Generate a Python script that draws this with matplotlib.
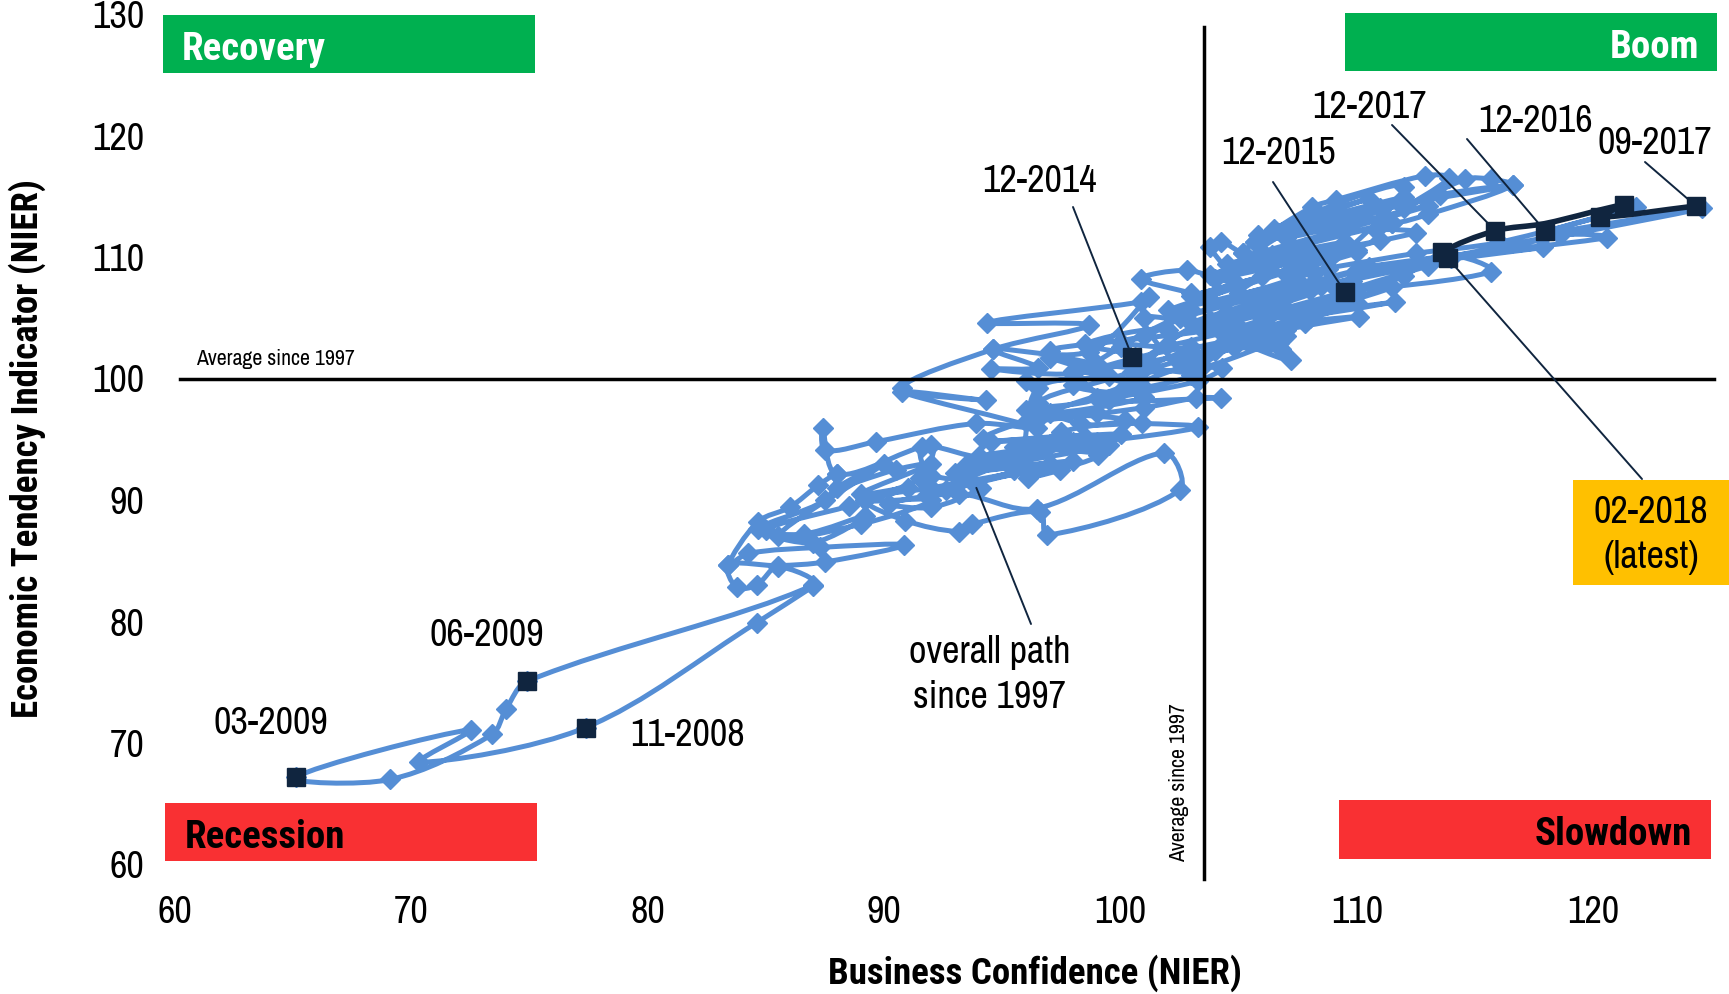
import numpy as np
import matplotlib
matplotlib.use('Agg')
import matplotlib.pyplot as plt
from matplotlib.path import Path
from matplotlib.patches import PathPatch, Rectangle

# monthly path since 1997, x = business confidence, y = tendency indicator
path_conf = [
    87.0, 84.6, 77.36, 70.3, 72.5, 65.09, 69.1, 73.4, 74.0, 74.89,
    87.0, 85.5, 84.6, 83.75, 83.4, 85.5, 87.5, 90.85, 87.3, 84.25,
    83.4, 84.65, 86.0, 87.2, 88.0, 87.5, 84.65, 86.6, 89.2, 87.0,
    85.0, 88.5, 91.0, 89.0, 92.0, 90.5, 88.0, 90.0, 85.5, 89.0, 92.0,
    89.2, 91.5, 92.0, 88.0, 87.4, 87.5, 89.65, 93.9, 96.45, 90.75,
    94.3, 90.75, 94.6, 98.65, 94.37, 100.87, 101.2, 98.65, 94.6, 96.5,
    94.5, 98.0, 100.6, 98.5, 102.0, 100.9, 96.5, 98.3, 100.9, 103.3,
    99.0, 95.5, 99.05, 96.1, 97.45, 93.7, 94.1, 92.0, 90.2, 93.15,
    96.45, 101.85, 102.5, 96.9, 96.6, 93.7, 93.15, 90.9, 89.2, 92.0,
    98.0, 93.0, 99.5, 94.0, 100.0, 94.5, 98.5, 93.5, 97.0, 92.6,
    96.0, 91.8, 95.5, 97.5, 100.2, 96.0, 99.0, 98.0, 101.0, 97.0,
    99.5, 96.5,
    95.5, 92.0, 91.6, 94.5, 97.0, 93.5, 96.0, 98.0, 94.2, 96.6,
    99.0, 96.0, 101.0, 103.2, 104.25, 99.5,
    103.3, 104.3, 100.9, 104.4, 107.2, 106.7, 103.6, 107.0, 110.1, 105.0,
    102.0, 104.5, 108.0, 111.6, 106.0, 103.0, 100.87, 102.8, 104.8, 103.8,
    104.25, 105.2, 108.0, 106.0, 103.8, 108.0, 109.8, 106.3, 113.8,
    115.7, 110.0, 113.0, 108.5, 118.6, 120.6, 113.5, 110.5, 117.9, 114.0,
    124.6, 118.0, 121.8, 116.0, 112.5, 107.0, 110.0, 106.0, 112.5, 110.8,
    111.0, 107.0, 105.2, 105.7, 108.1, 109.1, 112.9, 113.9, 112.0, 114.6,
    115.7, 116.6, 113.0, 111.5, 109.1, 105.7, 108.5, 113.5, 116.6, 111.0, 107.3,
    104.6, 106.4, 103.8, 107.8, 105.0, 108.8, 104.5, 107.0, 105.7, 103.8,
    100.5, 108.0, 103.0, 110.0, 104.5, 111.5, 105.0, 112.0, 104.0, 109.0,
    103.0, 110.0, 102.5, 107.5, 102.0, 108.0, 103.0, 110.0, 104.0, 109.5,
    104.5, 111.5, 106.0, 113.0, 107.0, 112.0, 106.5, 110.5, 105.8, 112.0,
    106.8, 103.5, 107.0, 104.0, 107.8, 104.4, 106.8, 103.0, 99.0, 103.0,
    100.0, 103.5, 101.0, 102.4, 104.8, 100.0, 103.0, 99.0, 97.0, 101.0,
    103.0, 100.0, 98.0, 101.0, 97.0, 100.5, 96.0,
]
path_tend = [
    82.9, 79.9, 71.27, 68.4, 71.1, 67.18, 67.0, 70.7, 72.8, 75.09,
    83.0, 84.5, 83.0, 82.8, 84.65, 84.6, 84.9, 86.3, 86.1, 85.6,
    84.65, 88.2, 89.4, 91.2, 92.1, 90.0, 87.6, 87.2, 88.7, 86.5,
    87.5, 89.5, 91.0, 90.5, 93.0, 92.5, 91.0, 93.0, 87.0, 88.0, 90.0,
    90.0, 91.8, 94.5, 92.1, 95.9, 94.1, 94.8, 96.3, 95.9, 98.9,
    98.2, 99.2, 102.4, 104.4, 104.6, 106.3, 106.7, 102.2, 102.4, 100.9,
    100.8, 100.4, 101.8, 102.8, 104.0, 101.0, 98.0, 96.3, 96.3, 96.0,
    94.8, 94.4, 93.7, 91.8, 92.5, 91.5, 91.0, 89.4, 89.7, 90.5,
    89.3, 93.9, 90.8, 87.1, 89.0, 88.0, 87.4, 88.3, 90.0, 91.0,
    93.2, 92.2, 94.5, 93.6, 95.4, 94.8, 95.2, 92.4, 93.0, 90.8,
    92.6, 90.4, 93.4, 95.6, 96.6, 97.4, 98.4, 100.6, 99.2, 101.7,
    100.2, 99.2,
    92.5, 92.0, 94.4, 93.4, 94.5, 93.0, 93.5, 94.8, 95.0, 96.8,
    97.2, 96.4, 97.6, 98.4, 98.4, 98.2,
    99.8, 100.9, 100.6, 103.0, 101.5, 102.9, 102.0, 104.0, 105.1, 104.0,
    102.8, 105.5, 105.5, 106.3, 105.0, 107.0, 108.2, 108.9, 108.0, 110.85,
    111.26, 110.3, 109.0, 108.4, 106.5, 107.3, 108.0, 106.2, 110.1,
    108.8, 107.4, 109.3, 107.6, 111.8, 111.6, 110.0, 109.2, 110.8, 109.9,
    114.0, 112.0, 114.1, 111.2, 110.3, 108.6, 110.4, 109.5, 112.0, 112.2,
    111.4, 109.8, 110.3, 111.2, 114.1, 114.7, 116.7, 116.5, 114.0, 116.4,
    116.4, 115.9, 113.5, 112.8, 113.2, 111.2, 112.4, 115.1, 115.9, 114.0, 112.3,
    108.6, 110.2, 108.5, 110.8, 107.0, 109.0, 104.8, 106.8, 103.5, 104.8,
    100.5, 105.0, 101.8, 106.2, 103.2, 107.5, 104.2, 108.4, 104.3, 107.6,
    104.6, 108.9, 105.0, 108.0, 105.6, 109.4, 106.8, 110.6, 108.2, 111.2,
    109.4, 112.8, 110.4, 114.2, 111.6, 114.9, 112.3, 114.8, 111.8, 115.8,
    105.7, 101.0, 103.5, 102.3, 104.6, 103.6, 102.4, 102.6, 100.8, 102.2,
    103.0, 104.0, 105.0, 101.5, 102.6, 99.0, 100.3, 101.2, 102.3, 103.5,
    105.6, 102.6, 99.5, 98.5, 97.2, 99.8, 99.8,
]

# latest stretch of the path
recent_conf = [113.85, 113.6, 115.86, 117.96, 121.3, 120.3, 124.35]
recent_tend = [109.9, 110.4, 112.16, 112.75, 114.3, 113.3, 114.2]

# dated points picked out with a square marker
dated_conf = [77.36, 65.09, 74.89, 100.5, 109.5, 117.96, 124.35, 115.86, 113.85, 113.6, 120.3, 121.3]
dated_tend = [71.27, 67.18, 75.09, 101.75, 107.1, 112.16, 114.2, 112.16, 109.9, 110.4, 113.3, 114.3]

avg_conf = 103.54
avg_tend = 100

x_ticks = [60, 70, 80, 90, 100, 110, 120]
y_ticks = [60, 70, 80, 90, 100, 110, 120, 130]

BLUE = '#558ed5'
NAVY = '#10253f'
GREEN = '#00b050'
RED = '#f93033'
AMBER = '#ffc000'
NARROW = ['Archivo Narrow', 'Liberation Sans']
BOLD = ['Roboto Condensed', 'Liberation Sans']
SIZE = 27.5
BOLD_SIZE = 26.6


def smooth_path(x, y):
    # cubic segments through every point, like a smoothed spreadsheet line
    pts = np.column_stack([x, y])
    seg = np.hypot(np.diff(pts[:, 0]), np.diff(pts[:, 1]) * 0.5) + 1e-6
    tang = np.zeros_like(pts)
    tang[1:-1] = (pts[2:] - pts[:-2]) / (seg[1:] + seg[:-1])[:, None]
    tang[0] = (pts[1] - pts[0]) / seg[0]
    tang[-1] = (pts[-1] - pts[-2]) / seg[-1]
    verts = [pts[0]]
    codes = [Path.MOVETO]
    for i in range(len(pts) - 1):
        step = seg[i] / 3
        verts += [pts[i] + tang[i] * step, pts[i + 1] - tang[i + 1] * step, pts[i + 1]]
        codes += [Path.CURVE4] * 3
    return Path(verts, codes)


fig = plt.figure(figsize=(17.29, 9.94), dpi=100)
W, H = 1729, 994
x0, x_unit = 175.3, 23.63
y0, y_unit = 864.5, 12.15
ax = fig.add_axes([x0 / W, (H - y0) / H, (W - x0) / W, y_unit * 70 / H])
ax.set_xlim(60, 60 + (W - x0) / x_unit)
ax.set_ylim(60, 130)
for side in ax.spines.values():
    side.set_visible(False)
ax.patch.set_visible(False)

ax.set_xticks(x_ticks)
ax.set_yticks(y_ticks)
ax.tick_params(length=0, labelsize=SIZE, pad=22)
for lab in ax.get_xticklabels() + ax.get_yticklabels():
    lab.set_family(NARROW)

# overall path
ax.add_patch(PathPatch(smooth_path(path_conf, path_tend), fill=False, edgecolor=BLUE,
                       lw=3.6, zorder=3, clip_on=False))
ax.plot(path_conf, path_tend, ls='none', marker='D', ms=10, mfc=BLUE, mec=BLUE, zorder=3)

# average lines
ax.plot([60.2, 125.1], [avg_tend, avg_tend], color='black', lw=2.5, zorder=4, clip_on=False)
ax.plot([avg_conf, avg_conf], [58.8, 128.9], color='black', lw=2.5, zorder=4, clip_on=False)

# latest stretch
ax.add_patch(PathPatch(smooth_path(recent_conf, recent_tend), fill=False, edgecolor=NAVY,
                       lw=4, zorder=5))
ax.plot(dated_conf, dated_tend, ls='none', marker='s', ms=12.5, mfc=NAVY, mec=NAVY, zorder=7)

# overlay in pixel units for boxes and captions
over = fig.add_axes([0, 0, 1, 1])
over.set_xlim(0, W)
over.set_ylim(H, 0)
over.axis('off')

boxes = [
    (163, 15, 372, 58, GREEN, 'Recovery', 'white', 182, 'left'),
    (1345, 13, 372, 58, GREEN, 'Boom', 'white', 1699, 'right'),
    (165, 803, 372, 58, RED, 'Recession', 'black', 185, 'left'),
    (1339, 800, 372, 59, RED, 'Slowdown', 'black', 1692, 'right'),
]
for bx, by, bw, bh, col, name, txt_col, tx, ha in boxes:
    over.add_patch(Rectangle((bx, by), bw, bh, facecolor=col, edgecolor='none'))
    over.text(tx, by + bh / 2 + 5, name, color=txt_col, ha=ha, va='center', fontsize=28,
              fontweight='bold', family=BOLD)
over.add_patch(Rectangle((1573, 480), 156, 105, facecolor=AMBER, edgecolor='none'))

captions = [
    ('12-2014', 1040, 181), ('12-2015', 1279, 154), ('12-2017', 1370, 108),
    ('12-2016', 1536, 121), ('09-2017', 1655, 143), ('06-2009', 487, 635),
    ('03-2009', 271, 723), ('11-2008', 688, 735),
    ('overall path\nsince 1997', 990, 675), ('02-2018\n(latest)', 1651, 535),
]
for s, tx, ty in captions:
    over.text(tx, ty, s, ha='center', va='center', fontsize=SIZE, family=NARROW, linespacing=1.35)

over.text(196, 359, 'Average since 1997', ha='left', va='center', fontsize=15.7, family=NARROW)
over.text(1179, 783, 'Average since 1997', ha='center', va='center', rotation=90, fontsize=15.7,
          family=NARROW)
over.text(1035, 973, 'Business Confidence (NIER)', ha='center', va='center', fontsize=BOLD_SIZE,
          fontweight='bold', family=BOLD)
over.text(27, 449, 'Economic Tendency Indicator (NIER)', ha='center', va='center', rotation=90,
          fontsize=BOLD_SIZE, fontweight='bold', family=BOLD)

# leader lines from each caption to its dated point
leaders = [
    (1073, 207, 3), (1273, 182, 4), (1392, 125, 7), (1467, 139, 5), (1645, 162, 6),
    (1642, 479, 8), (1031, 624, None),
]
for tx, ty, idx in leaders:
    if idx is None:
        xy = (93.9, 91.0)
    else:
        xy = (dated_conf[idx], dated_tend[idx])
    ax.annotate('', xy=xy, xytext=(tx, ty), textcoords=over.transData,
                arrowprops=dict(arrowstyle='-', color=NAVY, lw=1.4, shrinkA=0, shrinkB=0),
                zorder=6)

fig.savefig('out.png', dpi=100)
